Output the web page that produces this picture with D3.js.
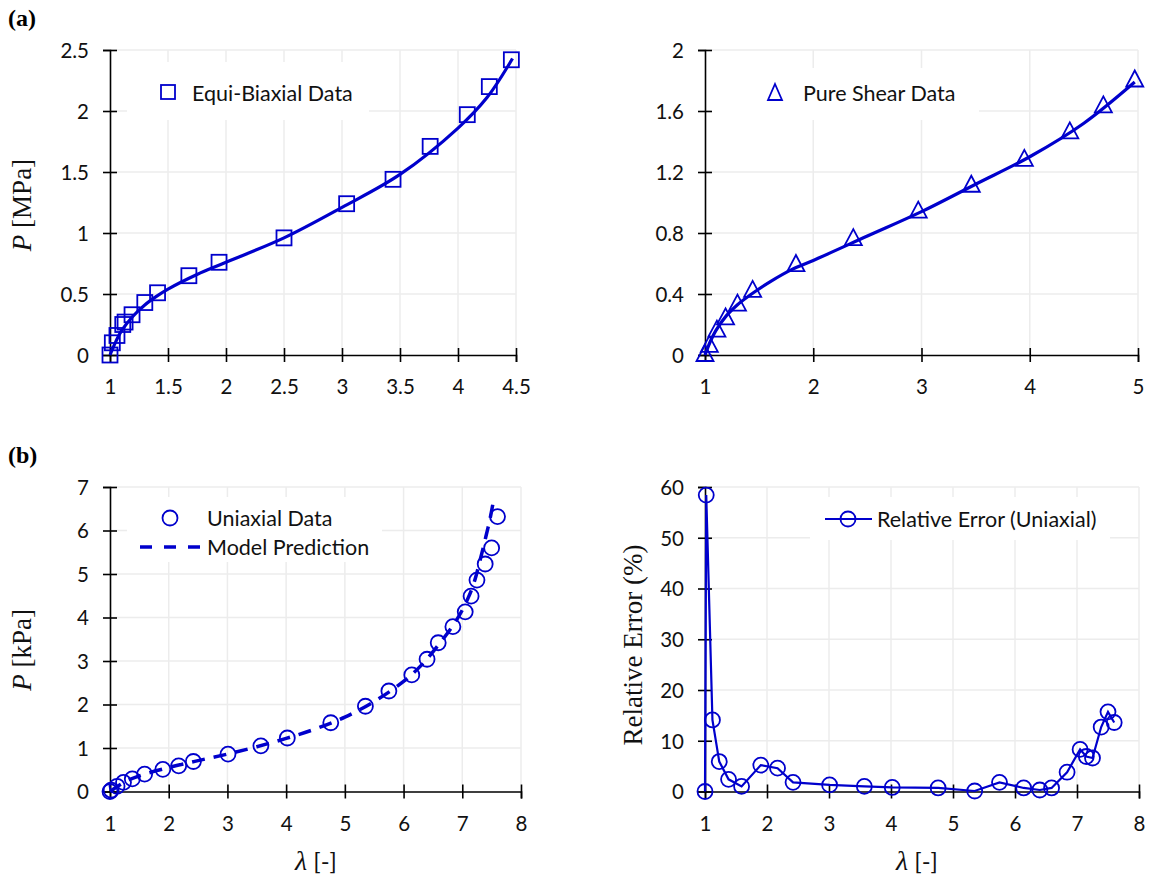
<!DOCTYPE html>
<html><head><meta charset="utf-8">
<script src="https://cdn.jsdelivr.net/npm/d3@7"></script>
<style>body{margin:0;background:#fff}</style>
</head><body><svg id="c" width="1150" height="880"></svg>
<script>
// ---------- (a) Equi-biaxial ----------
const ebLambda = [1.0, 1.02, 1.06, 1.11, 1.13, 1.19, 1.30, 1.41, 1.68, 1.94, 2.5, 3.04, 3.44, 3.76, 4.08, 4.27, 4.46];
const ebP      = [0, 0.10, 0.16, 0.25, 0.27, 0.33, 0.43, 0.51, 0.65, 0.76, 0.96, 1.24, 1.44, 1.71, 1.97, 2.20, 2.42];
const ebFitLambda = [1.0, 1.05, 1.1, 1.2, 1.3, 1.4, 1.5, 1.75, 2.0, 2.5, 3.0, 3.5, 4.0, 4.25, 4.47];
const ebFitP      = [0, 0.11, 0.20, 0.32, 0.41, 0.48, 0.54, 0.66, 0.76, 0.96, 1.21, 1.48, 1.86, 2.11, 2.43];
const ebXTicks = [1, 1.5, 2, 2.5, 3, 3.5, 4, 4.5];
const ebYTicks = [0, 0.5, 1, 1.5, 2, 2.5];

// ---------- (a) Pure shear ----------
const psLambda = [1.0, 1.04, 1.11, 1.19, 1.30, 1.44, 1.84, 2.37, 2.97, 3.46, 3.95, 4.37, 4.68, 4.97];
const psP      = [0, 0.06, 0.16, 0.24, 0.33, 0.42, 0.59, 0.76, 0.94, 1.11, 1.28, 1.46, 1.63, 1.80];
const psFitLambda = [1.0, 1.05, 1.1, 1.2, 1.3, 1.45, 1.6, 1.8, 2.0, 2.5, 3.0, 3.5, 4.0, 4.5, 4.97];
const psFitP      = [0, 0.09, 0.16, 0.26, 0.33, 0.41, 0.48, 0.56, 0.62, 0.78, 0.94, 1.12, 1.30, 1.52, 1.79];
const psXTicks = [1, 2, 3, 4, 5];
const psYTicks = [0, 0.4, 0.8, 1.2, 1.6, 2];
const psYLabels = ["0", "0.4", "0.8", "1.2", "1.6", "2"];

// ---------- (b) Uniaxial ----------
const uniLambda = [1.0, 1.02, 1.12, 1.23, 1.38, 1.59, 1.9, 2.17, 2.42, 3.01, 3.57, 4.02, 4.76, 5.35, 5.75, 6.14, 6.4, 6.59, 6.84, 7.05, 7.15, 7.25, 7.39, 7.5, 7.6];
const uniP      = [0, 0.03, 0.12, 0.21, 0.29, 0.40, 0.51, 0.59, 0.69, 0.86, 1.05, 1.23, 1.58, 1.96, 2.31, 2.68, 3.04, 3.42, 3.79, 4.13, 4.49, 4.86, 5.23, 5.60, 6.32];
const relError  = [0, 58.4, 14.1, 5.9, 2.4, 1.0, 5.2, 4.6, 1.8, 1.3, 1.0, 0.8, 0.7, 0.1, 1.8, 0.7, 0.3, 0.7, 3.8, 8.3, 6.9, 6.6, 12.7, 15.7, 13.6];
const uniFitLambda = [1.0, 1.25, 1.5, 2.0, 2.5, 3.0, 3.5, 4.0, 4.5, 5.0, 5.5, 6.0, 6.3, 6.6, 6.85, 7.0, 7.1, 7.2, 7.3, 7.4, 7.47, 7.54];
const uniFitP      = [0, 0.22, 0.36, 0.55, 0.71, 0.86, 1.03, 1.22, 1.44, 1.71, 2.07, 2.53, 2.90, 3.38, 3.83, 4.17, 4.45, 4.80, 5.30, 5.85, 6.25, 6.75];
const uniXTicks = [1, 2, 3, 4, 5, 6, 7, 8];
const uniYTicks = [0, 1, 2, 3, 4, 5, 6, 7];
const errYTicks = [0, 10, 20, 30, 40, 50, 60];

const BLUE = "#0000cc";
const GRID = "#ececec";
const SANS = "Lato, 'Open Sans', sans-serif";
const SERIF = "'Liberation Serif', 'Times New Roman', serif";
const TICK_FS = 20.5;
const svg = d3.select("#c");

function panel(p) {
  const x = d3.scaleLinear().domain(p.xd).range([p.left, p.right]);
  const y = d3.scaleLinear().domain(p.yd).range([p.bottom, p.top]);
  const g = svg.append("g");
  // grid
  g.append("g").selectAll("line").data(p.xt.slice(1)).join("line")
    .attr("x1", d => x(d)).attr("x2", d => x(d)).attr("y1", p.bottom).attr("y2", p.top)
    .attr("stroke", GRID).attr("stroke-width", 1.5);
  g.append("g").selectAll("line").data(p.yt.slice(1)).join("line")
    .attr("y1", d => y(d)).attr("y2", d => y(d)).attr("x1", p.left).attr("x2", p.right)
    .attr("stroke", GRID).attr("stroke-width", 1.5);
  // legend background
  if (p.box) g.append("rect").attr("x", p.box[0]).attr("y", p.box[1])
    .attr("width", p.box[2]).attr("height", p.box[3]).attr("fill", "#fff");
  // x axis
  const gx = g.append("g").attr("transform", `translate(0,${p.bottom})`)
    .call(d3.axisBottom(x).tickValues(p.xt).tickSizeOuter(0).tickSize(7)
      .tickFormat((d, i) => p.xl ? p.xl[i] : String(d)));
  gx.select(".domain").attr("stroke", "#000").attr("stroke-width", 1.6);
  gx.selectAll(".tick line").attr("y1", -7).attr("y2", 7).attr("stroke", "#000").attr("stroke-width", 1.6);
  gx.selectAll(".tick text").attr("y", 39).attr("dy", null)
    .attr("font-family", SANS).attr("font-size", TICK_FS).attr("fill", "#111");
  // y axis
  const gy = g.append("g").attr("transform", `translate(${p.left},0)`)
    .call(d3.axisLeft(y).tickValues(p.yt).tickSizeOuter(0).tickSize(7)
      .tickFormat((d, i) => p.yl ? p.yl[i] : String(d)));
  gy.select(".domain").attr("stroke", "#000").attr("stroke-width", 1.6);
  gy.selectAll(".tick line").attr("x1", 7).attr("x2", -7).attr("stroke", "#000").attr("stroke-width", 1.6);
  gy.selectAll(".tick text").attr("x", -21).attr("dy", "0.36em")
    .attr("font-family", SANS).attr("font-size", TICK_FS).attr("fill", "#111");
  return {x, y, g};
}

function pts(xs, ys) { return xs.map((v, i) => [v, ys[i]]); }

function squares(g, data, x, y, s) {
  g.append("g").selectAll("rect").data(data).join("rect")
    .attr("x", d => x(d[0]) - s / 2).attr("y", d => y(d[1]) - s / 2)
    .attr("width", s).attr("height", s)
    .attr("fill", "none").attr("stroke", BLUE).attr("stroke-width", 1.8);
}
function triangles(g, data, x, y) {
  const tri = d => { const cx = x(d[0]), cy = y(d[1]);
    return `M${cx},${cy - 10}L${cx + 8.5},${cy + 6}L${cx - 8.5},${cy + 6}Z`; };
  g.append("g").selectAll("path").data(data).join("path")
    .attr("d", tri).attr("fill", "none").attr("stroke", BLUE).attr("stroke-width", 1.8);
}
function circles(g, data, x, y) {
  g.append("g").selectAll("circle").data(data).join("circle")
    .attr("cx", d => x(d[0])).attr("cy", d => y(d[1])).attr("r", 7.5)
    .attr("fill", "none").attr("stroke", BLUE).attr("stroke-width", 1.8);
}
function curve(g, data, x, y, w, dash) {
  g.append("path").datum(data)
    .attr("d", d3.line().x(d => x(d[0])).y(d => y(d[1])).curve(d3.curveCatmullRom.alpha(0.5)))
    .attr("fill", "none").attr("stroke", BLUE).attr("stroke-width", w)
    .attr("stroke-dasharray", dash || null);
}
function legendText(x, cy, t) {
  svg.append("text").attr("x", x).attr("y", cy + 0.36 * 21.5).text(t)
    .attr("font-family", SANS).attr("font-size", 21.5).attr("fill", "#111");
}
function yTitle(cx, cy, parts, fs) {
  const t = svg.append("text").attr("transform", `translate(${cx},${cy}) rotate(-90)`)
    .attr("text-anchor", "middle").attr("font-family", SERIF).attr("font-size", fs).attr("fill", "#111");
  parts.forEach(pp => t.append("tspan").text(pp[0]).attr("font-style", pp[1] ? "italic" : "normal"));
}
function xTitle(cx, cy) {
  const t = svg.append("text").attr("x", cx).attr("y", cy).attr("text-anchor", "middle").attr("fill", "#111");
  t.append("tspan").text("λ").attr("font-family", SERIF).attr("font-style", "italic").attr("font-size", 28);
  t.append("tspan").text(" [-]").attr("font-family", SANS).attr("font-size", 24);
}

// ===== Panel TL =====
{
  const {x, y, g} = panel({left: 110, right: 516, top: 50, bottom: 355, xd: [1, 4.5], yd: [0, 2.5],
    xt: ebXTicks, yt: ebYTicks, box: [127, 62, 242, 58]});
  curve(g, pts(ebFitLambda, ebFitP), x, y, 3.2);
  squares(g, pts(ebLambda, ebP), x, y, 15);
  svg.append("rect").attr("x", 161).attr("y", 85).attr("width", 14).attr("height", 14)
    .attr("fill", "none").attr("stroke", BLUE).attr("stroke-width", 1.8);
  legendText(192, 93, "Equi-Biaxial Data");
}
// ===== Panel TR =====
{
  const {x, y, g} = panel({left: 705, right: 1138, top: 50, bottom: 355, xd: [1, 5], yd: [0, 2],
    xt: psXTicks, yt: psYTicks, yl: psYLabels, box: [711, 68, 268, 52]});
  curve(g, pts(psFitLambda, psFitP), x, y, 3.2);
  triangles(g, pts(psLambda, psP), x, y);
  svg.append("path").attr("d", "M775,84L782,100L768,100Z")
    .attr("fill", "none").attr("stroke", BLUE).attr("stroke-width", 1.8);
  legendText(803, 93, "Pure Shear Data");
}
// ===== Panel BL =====
{
  const {x, y, g} = panel({left: 110, right: 521, top: 487, bottom: 791.5, xd: [1, 8], yd: [0, 7],
    xt: uniXTicks, yt: uniYTicks, box: [127, 497, 255, 65]});
  curve(g, pts(uniFitLambda, uniFitP), x, y, 3.5, "13,9");
  circles(g, pts(uniLambda, uniP), x, y);
  svg.append("circle").attr("cx", 170).attr("cy", 518).attr("r", 7.5)
    .attr("fill", "none").attr("stroke", BLUE).attr("stroke-width", 1.8);
  legendText(207, 518, "Uniaxial Data");
  svg.append("line").attr("x1", 140).attr("x2", 201).attr("y1", 547).attr("y2", 547)
    .attr("stroke", BLUE).attr("stroke-width", 3.5).attr("stroke-dasharray", "12,12");
  legendText(207, 547, "Model Prediction");
}
// ===== Panel BR =====
{
  const {x, y, g} = panel({left: 705, right: 1139, top: 487, bottom: 791.5, xd: [1, 8], yd: [0, 60],
    xt: uniXTicks, yt: errYTicks, box: [810, 497, 300, 43]});
  g.append("path").datum(pts(uniLambda, relError))
    .attr("d", d3.line().x(d => x(d[0])).y(d => y(d[1])))
    .attr("fill", "none").attr("stroke", BLUE).attr("stroke-width", 2.2);
  circles(g, pts(uniLambda, relError), x, y);
  svg.append("line").attr("x1", 825).attr("x2", 872).attr("y1", 519).attr("y2", 519)
    .attr("stroke", BLUE).attr("stroke-width", 2.2);
  svg.append("circle").attr("cx", 848).attr("cy", 519).attr("r", 7.5)
    .attr("fill", "none").attr("stroke", BLUE).attr("stroke-width", 1.8);
  legendText(877, 519, "Relative Error (Uniaxial)");
}

// titles
yTitle(31, 205, [["P", true], [" [MPa]", false]], 27);
yTitle(31, 650, [["P", true], [" [kPa]", false]], 27);
yTitle(642, 645, [["Relative Error (%)", false]], 27);
xTitle(316, 870);
xTitle(917, 870);
svg.append("text").attr("x", 8).attr("y", 26).text("(a)")
  .attr("font-family", SERIF).attr("font-weight", "bold").attr("font-size", 24).attr("fill", "#000");
svg.append("text").attr("x", 8).attr("y", 463).text("(b)")
  .attr("font-family", SERIF).attr("font-weight", "bold").attr("font-size", 24).attr("fill", "#000");
</script>
</body></html>
